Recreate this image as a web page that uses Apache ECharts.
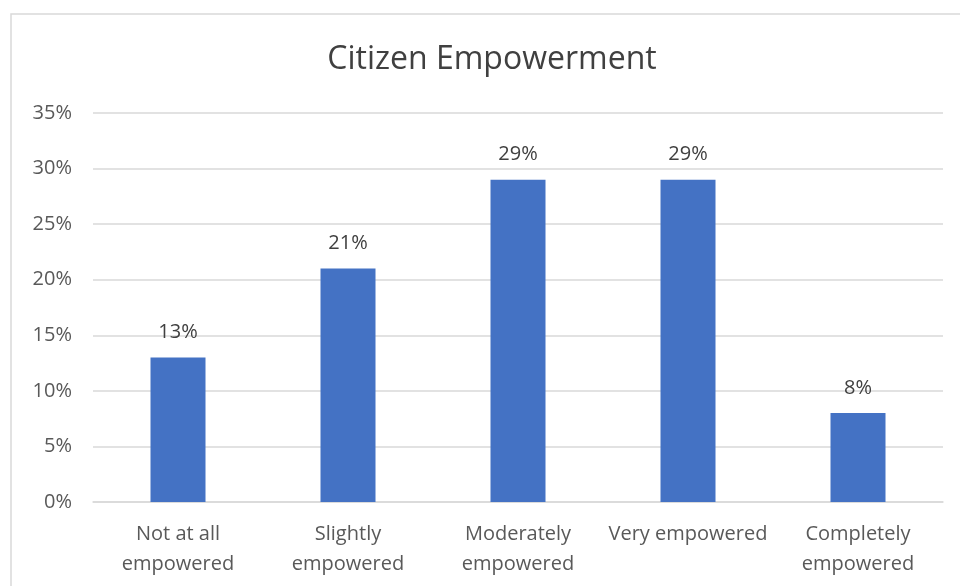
<!DOCTYPE html>
<html>
<head>
<meta charset="utf-8">
<script src="https://cdn.jsdelivr.net/npm/echarts@6/dist/echarts.min.js"></script>
<style>
  html, body { margin: 0; padding: 0; background: #ffffff; }
  #chart { width: 960px; height: 586px; }
</style>
</head>
<body>
<div id="chart"></div>
<script>
const categories = ['Not at all\nempowered', 'Slightly\nempowered', 'Moderately\nempowered', 'Very empowered', 'Completely\nempowered'];
const values = [13, 21, 29, 29, 8];
const yTicks = [0, 5, 10, 15, 20, 25, 30, 35];

const font = '"Open Sans", "Noto Sans", sans-serif';
const chart = echarts.init(document.getElementById('chart'));
chart.setOption({
  backgroundColor: '#ffffff',
  animation: false,
  graphic: [{
    type: 'rect',
    shape: { x: 11, y: 14, width: 990, height: 620 },
    style: { fill: 'none', stroke: '#d9d9d9', lineWidth: 1.5 },
    silent: true
  }],
  title: {
    text: 'Citizen Empowerment',
    left: 487,
    textAlign: 'center',
    top: 39,
    textStyle: { fontFamily: font, fontSize: 32, fontWeight: 'normal', color: '#404040' }
  },
  grid: { left: 93, right: 17, top: 113, bottom: 84, containLabel: false },
  xAxis: {
    type: 'category',
    data: categories,
    axisTick: { show: false },
    axisLine: { lineStyle: { color: '#d9d9d9', width: 1.5 } },
    axisLabel: { fontFamily: font, fontSize: 20, color: '#595959', margin: 17, lineHeight: 30, interval: 0 }
  },
  yAxis: {
    type: 'value',
    min: yTicks[0],
    max: yTicks[yTicks.length - 1],
    interval: 5,
    axisLine: { show: false },
    axisTick: { show: false },
    splitLine: { lineStyle: { color: '#d9d9d9', width: 1.5 } },
    axisLabel: { fontFamily: font, fontSize: 20, color: '#595959', margin: 21, formatter: v => v + '%' }
  },
  series: [{
    type: 'bar',
    data: values,
    barWidth: 55,
    itemStyle: { color: '#4472c4' },
    label: {
      show: true,
      position: 'top',
      distance: 15,
      fontFamily: font,
      fontSize: 20,
      color: '#404040',
      formatter: p => p.value + '%'
    }
  }]
});
</script>
</body>
</html>
